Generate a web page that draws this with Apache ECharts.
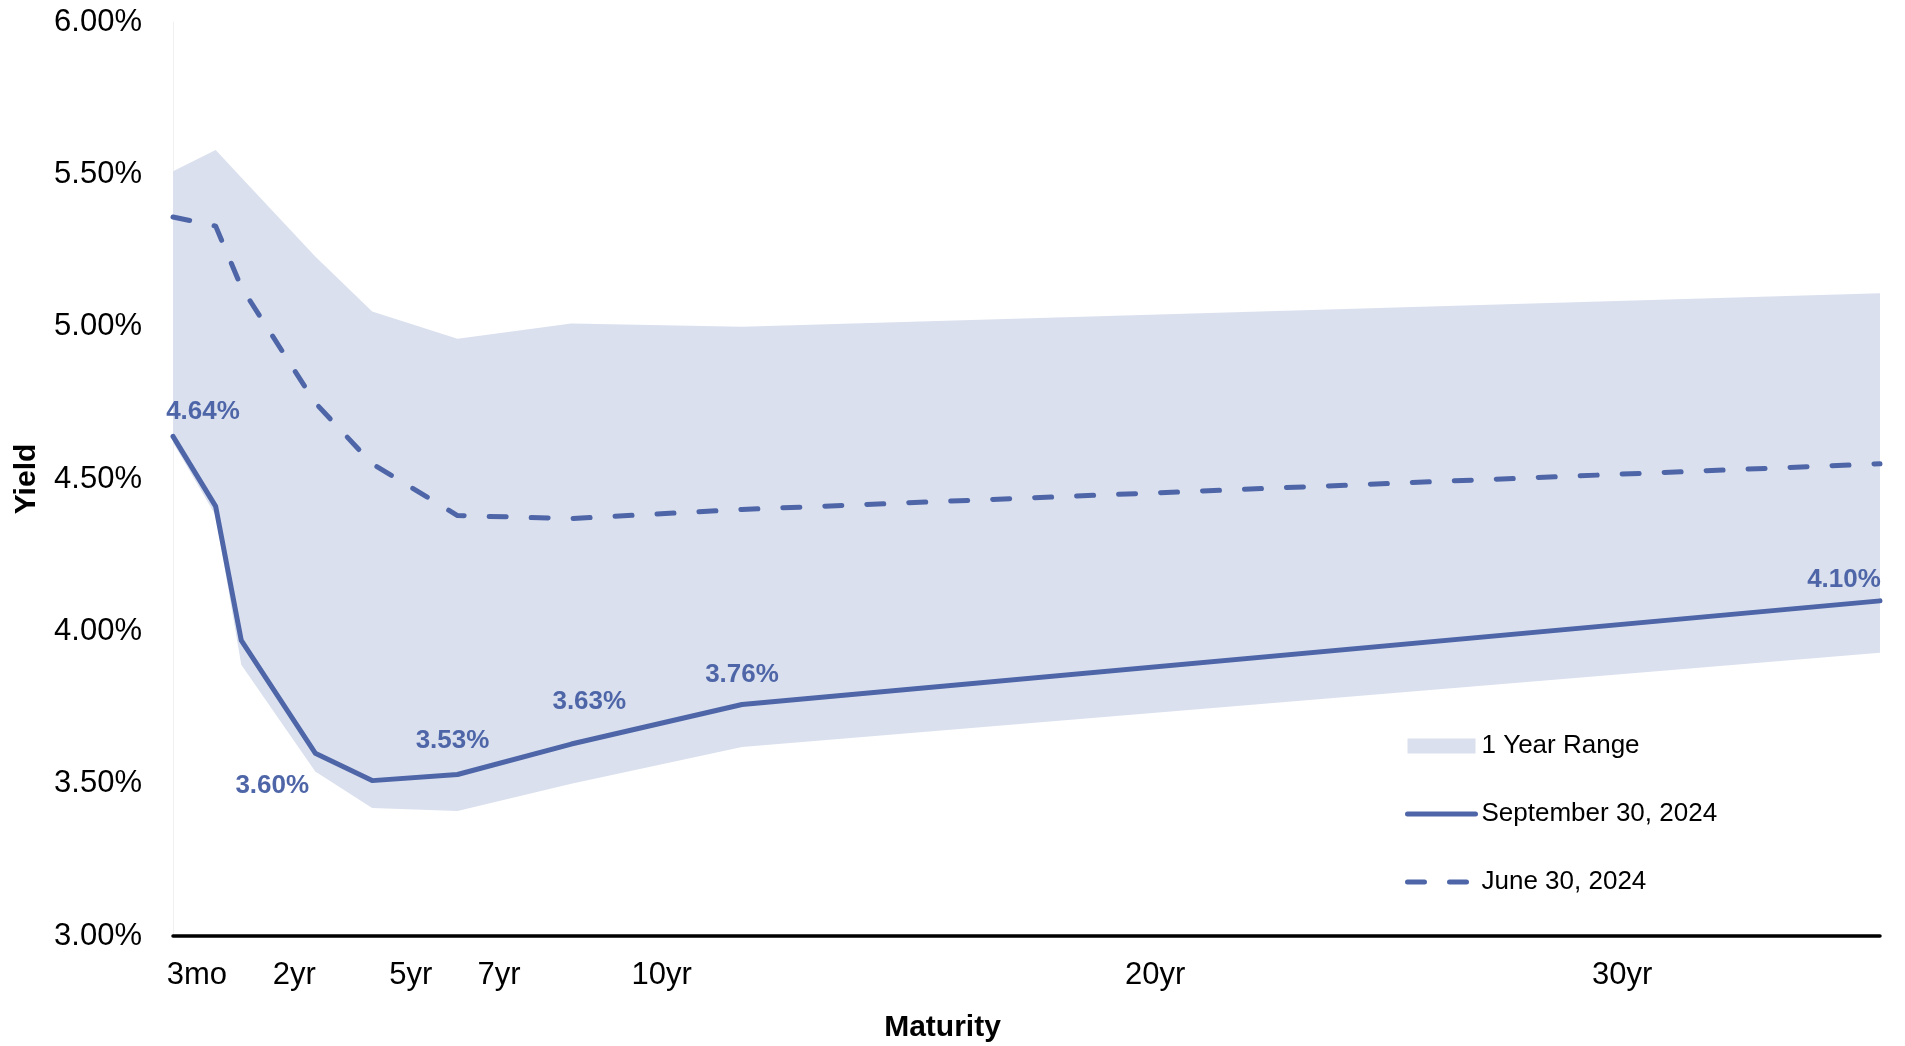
<!DOCTYPE html>
<html><head><meta charset="utf-8">
<script src="https://cdn.jsdelivr.net/npm/echarts@6/dist/echarts.min.js"></script>
<style>html,body{margin:0;padding:0;background:#fff}#c{width:1905px;height:1046px}</style>
</head><body><div id="c"></div>
<script>
// Position of each curve point along the maturity axis (axis units)
const maturityPos = [0, 0.75, 1.2, 2.5, 3.5, 5, 7, 10, 30];
// Yields (%)
const septYield = [4.64, 4.41, 3.97, 3.60, 3.51, 3.53, 3.63, 3.76, 4.10];
const juneYield = [5.36, 5.33, 5.13, 4.75, 4.55, 4.38, 4.37, 4.40, 4.55];
const rangeHigh = [5.51, 5.58, 5.49, 5.23, 5.05, 4.96, 5.01, 5.00, 5.11];
const rangeLow  = [4.62, 4.38, 3.89, 3.54, 3.42, 3.41, 3.50, 3.62, 3.93];
const labeledPoints = [true, false, false, true, false, true, true, true, true];
// x tick labels and where they sit on the axis
const tickLabels = ['3mo', '2yr', '5yr', '7yr', '10yr', '20yr', '30yr'];
const tickPos = [0.42, 2.13, 4.18, 5.73, 8.59, 17.26, 25.47];
const seriesNames = ['1 Year Range', 'September 30, 2024', 'June 30, 2024'];

const BLUE = '#4E66A8';
const BAND = '#DAE0EE';
const FONT = "'Liberation Sans', Arial, sans-serif";
// label styling offsets (px) per labelled point
const labelOffsets = {0: [30, -5], 3: [-43, 53], 5: [-5, -14], 6: [18, -22], 7: [0, -10], 8: [-36, -1]};

const pairs = (ys) => maturityPos.map((x, i) => [x, ys[i]]);
const bandData = maturityPos.map((x, i) => [x, rangeLow[i], rangeHigh[i]]);

const septData = maturityPos.map((x, i) => {
  const d = {value: [x, septYield[i]]};
  if (labeledPoints[i]) {
    d.label = {show: true, position: 'top', offset: labelOffsets[i] || [0, 0]};
  }
  return d;
});

const chart = echarts.init(document.getElementById('c'), null, {renderer: 'canvas'});
chart.setOption({
  animation: false,
  backgroundColor: '#fff',
  textStyle: {fontFamily: FONT},
  grid: {left: 173, right: 25, top: 22, bottom: 110, outerBoundsMode: 'none'},
  legend: {
    orient: 'vertical', left: 1405, top: 733, padding: 0,
    itemWidth: 68, itemHeight: 15, itemGap: 42,
    textStyle: {fontSize: 26, color: '#000', fontFamily: FONT, padding: [0, 0, 0, 1]},
    lineStyle: {width: 5, cap: 'round'},
    data: [
      {name: seriesNames[0], icon: 'rect', itemStyle: {color: BAND, opacity: 1}},
      {name: seriesNames[1], itemStyle: {opacity: 0}},
      {name: seriesNames[2], itemStyle: {opacity: 0}}
    ]
  },
  xAxis: {
    type: 'value', min: 0, max: 30,
    name: 'Maturity', nameLocation: 'middle', nameGap: 77,
    nameTextStyle: {fontSize: 30, fontWeight: 'bold', color: '#000', fontFamily: FONT, padding: [0, 168, 0, 0]},
    axisLine: {show: true, onZero: false, lineStyle: {color: '#000', width: 3.5}},
    axisTick: {show: false},
    splitLine: {show: false},
    axisLabel: {
      customValues: tickPos,
      fontSize: 31, color: '#000', margin: 24, fontFamily: FONT,
      formatter: (v) => {
        let best = 0;
        tickPos.forEach((p, i) => { if (Math.abs(p - v) < Math.abs(tickPos[best] - v)) best = i; });
        return tickLabels[best];
      }
    }
  },
  yAxis: {
    type: 'value', min: 3, max: 6, interval: 0.5,
    name: 'Yield', nameLocation: 'middle', nameRotate: 90, nameGap: 131,
    nameTextStyle: {fontSize: 30, fontWeight: 'bold', color: '#000', fontFamily: FONT},
    axisLine: {show: true, lineStyle: {color: '#F0F0F0', width: 1}},
    axisTick: {show: false},
    splitLine: {show: false},
    axisLabel: {fontSize: 31, color: '#000', margin: 31, fontFamily: FONT,
      formatter: (v) => v.toFixed(2) + '%'}
  },
  series: [
    {
      name: seriesNames[0], type: 'custom', data: bandData, silent: true, z: 1,
      itemStyle: {color: BAND},
      encode: {x: 0, y: [1, 2]},
      renderItem: (params, api) => {
        if (params.dataIndex !== 0) return null;
        const top = bandData.map(d => api.coord([d[0], d[2]]));
        const bottom = bandData.map(d => api.coord([d[0], d[1]])).reverse();
        return {type: 'polygon', shape: {points: top.concat(bottom)}, style: {fill: BAND}};
      }
    },
    {
      name: seriesNames[2], type: 'line', data: pairs(juneYield),
      symbol: 'none', silent: true,
      itemStyle: {color: BLUE},
      lineStyle: {color: BLUE, width: 5, type: [17, 25], cap: 'round', join: 'round'},
      z: 3
    },
    {
      name: seriesNames[1], type: 'line', data: septData,
      symbol: 'circle', symbolSize: 4, showSymbol: true, silent: true,
      itemStyle: {color: BLUE},
      lineStyle: {color: BLUE, width: 5, cap: 'round', join: 'round'},
      label: {show: false, color: BLUE, fontSize: 26, fontWeight: 'bold', fontFamily: FONT,
        formatter: (p) => p.value[1].toFixed(2) + '%'},
      z: 4
    }
  ]
});
</script>
</body></html>
